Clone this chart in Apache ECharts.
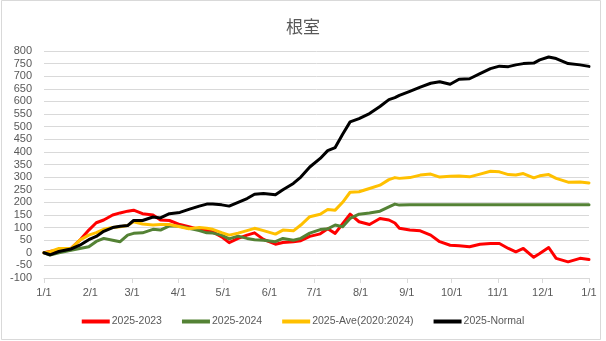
<!DOCTYPE html>
<html>
<head>
<meta charset="utf-8">
<script src="https://cdn.jsdelivr.net/npm/echarts@6/dist/echarts.min.js"></script>
<style>
html,body{margin:0;padding:0;background:#fff;}
#c{width:606px;height:341px;}
</style>
</head>
<body>
<div id="c"></div>
<script>
// Day of year (0 = 1/1) of the sampled points
const days = [0,4,10,18,24,30,35,40,46,51,56,60,66,73,78,84,91,97,104,109,113,119,124,130,136,141,147,155,160,167,172,178,185,190,195,200,205,211,218,225,231,235,238,245,252,259,265,272,278,285,292,299,305,311,316,321,328,332,338,343,351,359,365];

const s2023 = [0,5,12,17,50,90,119,130,150,158,165,169,155,150,130,128,112,103,92,88,83,63,40,57,70,79,53,34,41,44,48,65,75,95,77,115,153,123,112,136,130,118,97,90,87,70,44,30,28,24,34,37,37,17,4,17,-18,-3,21,-22,-36,-22,-27];

const s2024 = [0,-9,0,10,17,24,45,57,50,44,70,77,79,93,90,107,105,97,88,79,78,70,55,66,57,52,50,44,57,50,57,78,92,95,110,103,136,153,158,165,182,193,189,190,190,190,190,190,190,190,190,190,190,190,190,190,190,190,190,190,190,190,190];

const sAve = [0,4,17,17,50,70,80,93,100,103,108,123,114,110,112,112,103,95,100,97,93,80,70,78,88,97,88,74,90,87,110,143,153,172,169,200,240,242,255,268,290,298,295,298,308,312,300,303,304,301,312,323,321,310,308,314,297,305,310,295,280,281,277];

const sNormal = [0,-8,5,15,30,52,65,85,100,105,108,128,128,142,138,155,160,172,185,193,193,190,185,200,215,232,235,230,250,275,300,340,374,405,417,470,519,532,552,580,607,615,624,640,657,672,678,668,688,690,710,730,740,738,745,750,752,765,776,770,750,745,739];

const seriesNames = ['2025-2023','2025-2024','2025-Ave(2020:2024)','2025-Normal'];
const monthStarts = [0,31,59,90,120,151,181,212,243,273,304,334,365];
const monthLabels = ['1/1','2/1','3/1','4/1','5/1','6/1','7/1','8/1','9/1','10/1','11/1','12/1','1/1'];

const colors = ['#FF0000','#548235','#FFC000','#000000'];
const allData = [s2023, s2024, sAve, sNormal];

const chart = echarts.init(document.getElementById('c'), null, {renderer:'canvas'});
const fontFam = '"Liberation Sans", Arial, sans-serif';

chart.setOption({
  animation: false,
  backgroundColor: '#fff',
  title: {
    text: '根室',
    left: 'center',
    top: 13,
    textStyle: {fontFamily: '"Noto Sans CJK JP", sans-serif', fontSize: 17, fontWeight: 'normal', color: '#595959'}
  },
  graphic: [{
    type: 'rect', shape: {x: 1.5, y: 0.5, width: 599, height: 339},
    style: {fill: 'none', stroke: '#d9d9d9', lineWidth: 1}, silent: true
  }],
  legend: {
    bottom: 9,
    left: 'center',
    itemWidth: 28,
    itemHeight: 4,
    itemGap: 20,
    icon: 'rect',
    data: seriesNames,
    textStyle: {fontFamily: fontFam, fontSize: 10.5, color: '#595959', padding: [0,0,0,-3]}
  },
  grid: {left: 44, right: 17, top: 51, bottom: 63, containLabel: false},
  xAxis: {
    type: 'value', min: 0, max: 365,
    axisLine: {show: true, onZero: false, lineStyle: {color: '#d9d9d9'}},
    axisTick: {show: true, length: 5, customValues: monthStarts, lineStyle: {color: '#d9d9d9'}},
    axisLabel: {
      customValues: monthStarts,
      margin: 9,
      fontFamily: fontFam, fontSize: 11, color: '#595959',
      formatter: function (v) { const i = monthStarts.indexOf(v); return i >= 0 ? monthLabels[i] : ''; }
    },
    splitLine: {show: false}
  },
  yAxis: {
    type: 'value', min: -100, max: 800, interval: 50,
    axisLine: {show: false}, axisTick: {show: false},
    axisLabel: {fontFamily: fontFam, fontSize: 11, color: '#595959', margin: 12},
    splitLine: {lineStyle: {color: '#d9d9d9', width: 1}}
  },
  series: seriesNames.map((name, k) => ({
    name: name,
    type: 'line',
    data: days.map((d, i) => [d, allData[k][i]]),
    showSymbol: false,
    symbol: 'none',
    color: colors[k],
    lineStyle: {width: 3, color: colors[k], join: 'round', cap: 'round'},
    z: 2 + k
  }))
});
</script>
</body>
</html>
